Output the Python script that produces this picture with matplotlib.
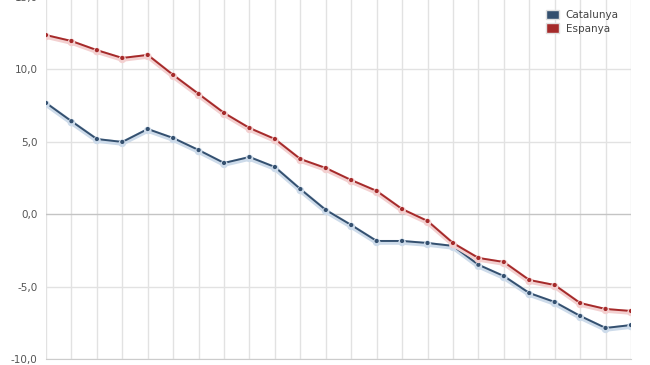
import numpy as np
import matplotlib
matplotlib.use("Agg")
import matplotlib.pyplot as plt
import matplotlib.patheffects as pe
from matplotlib.patches import Patch

# values
catalunya = [7.66, 6.4, 5.17, 4.97, 5.86, 5.24, 4.41, 3.52, 3.93, 3.24, 1.72, 0.28,
             -0.76, -1.86, -1.86, -2.0, -2.2, -3.5, -4.28, -5.45, -6.07, -7.03, -7.86, -7.66]
espanya = [12.34, 11.93, 11.3, 10.76, 10.97, 9.59, 8.28, 6.97, 5.93, 5.17, 3.79, 3.17,
           2.34, 1.59, 0.34, -0.48, -2.0, -3.03, -3.31, -4.55, -4.9, -6.14, -6.55, -6.69]
series_names = ["Catalunya", "Espanya"]
series_colors = ["#34506f", "#a52a2a"]
y_ticks = [-10, -5, 0, 5, 10, 15]

x = np.arange(len(catalunya))

fig = plt.figure(figsize=(6.5, 3.65), dpi=100)
fig.patch.set_facecolor("white")
ax = fig.add_axes([46 / 650, 6 / 365, 585 / 650, 362.5 / 365])

# grid
for xi in x:
    ax.axvline(xi, color="#e2e2e2", lw=1, zorder=0)
for yt in y_ticks:
    ax.axhline(yt, color="#c4c4c4" if yt == 0 else "#e2e2e2", lw=1, zorder=0)

shadow = {"Catalunya": "#cddbea", "Espanya": "#f3d0d0"}
for name, vals, col in zip(series_names, [catalunya, espanya], series_colors):
    ax.plot(x, vals, color=col, lw=1.4, marker="o", ms=2.0, zorder=3,
            path_effects=[pe.SimpleLineShadow(offset=(0, -1.0), shadow_color=shadow[name],
                                              alpha=1, linewidth=3.5), pe.Normal()])

ax.set_xlim(0, len(x) - 1)
ax.set_ylim(-10, 15)
ax.set_xticks([])
ax.set_yticks(y_ticks)
ax.set_yticklabels([f"{v:.1f}".replace(".", ",") for v in y_ticks], fontsize=7.5, color="#555555")
ax.tick_params(axis="y", length=0, pad=6)
for s in ax.spines.values():
    s.set_visible(False)
ax.spines["bottom"].set_visible(True)
ax.spines["bottom"].set_color("#cccccc")

handles = [Patch(facecolor=c, edgecolor="#e0e0e0") for c in series_colors]
leg = ax.legend(handles, series_names, loc="upper right", bbox_to_anchor=(0.995, 0.99),
                fontsize=7.5, frameon=False, handlelength=1.3, handleheight=1.0,
                handletextpad=0.6, labelspacing=0.35)
for t in leg.get_texts():
    t.set_color("#444444")

fig.savefig("out.png", dpi=100)
